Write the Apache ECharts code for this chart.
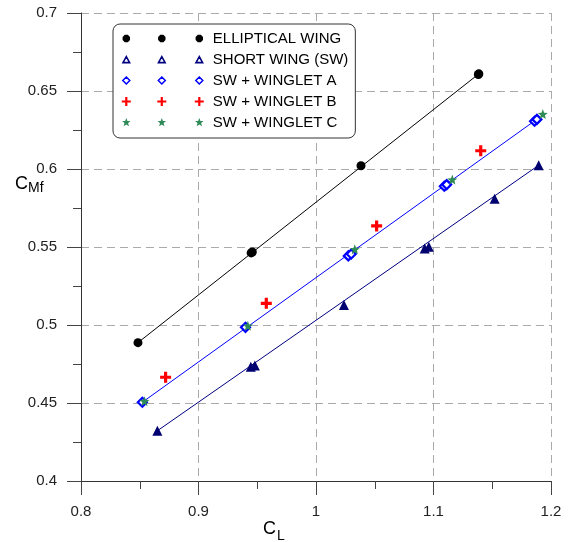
<!DOCTYPE html>
<html><head><meta charset="utf-8">
<script src="https://cdn.jsdelivr.net/npm/echarts@6/dist/echarts.min.js"></script>
<style>html,body{margin:0;padding:0;background:#fff}#c{width:571px;height:542px}</style>
</head><body><div id="c"></div>
<script>
// ---- data ----
const xTicks = [0.8, 0.9, 1.0, 1.1, 1.2];
const yTicks = [0.4, 0.45, 0.5, 0.55, 0.6, 0.65, 0.7];
const seriesNames = ['ELLIPTICAL WING', 'SHORT WING (SW)', 'SW + WINGLET A', 'SW + WINGLET B', 'SW + WINGLET C'];
const elliptical = [[0.8485,0.4887],[0.9448,0.5462],[0.9458,0.5468],[1.0383,0.6021],[1.1382,0.6606],[1.1386,0.6610]];
const shortWing = [[0.865,0.4322],[0.9445,0.4733],[0.9480,0.4740],[1.0238,0.5128],[1.0925,0.5490],[1.0960,0.5502],[1.1520,0.5810],[1.1895,0.6024]];
const wingletA = [[0.8522,0.4505],[0.9400,0.4985],[1.0275,0.5443],[1.0300,0.5455],[1.1092,0.5889],[1.1112,0.5900],[1.1860,0.6306],[1.1880,0.6318]];
const wingletB = [[0.8720,0.4665],[0.9577,0.5139],[1.0516,0.5635],[1.1402,0.6117]];
const wingletC = [[0.8540,0.4512],[0.9420,0.4995],[1.0330,0.5485],[1.1160,0.5932],[1.1930,0.6352]];
// straight fit lines (end points)
const ellipticalLine = [[0.8485,0.4887],[1.1384,0.6609]];
const shortWingLine = [[0.8650,0.4322],[1.1895,0.6024]];
const wingletLine = [[0.8522,0.4505],[1.1900,0.6330]];

// ---- marker shapes ----
function poly(pts){return 'M'+pts.map(p=>p[0].toFixed(2)+' '+p[1].toFixed(2)).join('L')+'Z';}
function octagon(cx,cy,r){const a=[];for(let k=0;k<8;k++){const t=(22.5+45*k)*Math.PI/180;a.push([cx+r*Math.cos(t),cy+r*Math.sin(t)]);}return poly(a);}
function tri(cx,cy,r){return poly([[cx,cy-r],[cx+r,cy+r*0.8],[cx-r,cy+r*0.8]]);}
function diamond(cx,cy,r){return poly([[cx,cy-r],[cx+r,cy],[cx,cy+r],[cx-r,cy]]);}
function plus(cx,cy,r,w){return poly([[cx-r,cy-w],[cx+r,cy-w],[cx+r,cy+w],[cx-r,cy+w]])+poly([[cx-w,cy-r],[cx+w,cy-r],[cx+w,cy+r],[cx-w,cy+r]]);}
function star(cx,cy,R,r){const a=[];for(let k=0;k<10;k++){const t=(-90+36*k)*Math.PI/180;const rr=k%2?r:R;a.push([cx+rr*Math.cos(t),cy+rr*Math.sin(t)]);}return poly(a);}
const centers=[4.5,40,77.5];
function legendIcon(fn){return 'path://M0 0L0 0ZM82 9L82 9Z'+centers.map(c=>fn(c)).join('');}

const FONT='Liberation Sans, Arial, sans-serif';
const chart = echarts.init(document.getElementById('c'), null, {renderer:'canvas'});
chart.setOption({
  animation:false,
  backgroundColor:'#fff',
  grid:{left:81,right:20,top:13,bottom:61,containLabel:false},
  xAxis:{type:'value',min:xTicks[0],max:xTicks[xTicks.length-1],interval:0.1,
    axisLine:{show:true,onZero:false,lineStyle:{color:'#333',width:1}},
    axisTick:{show:true,length:14,lineStyle:{color:'#444'}},
    minorTick:{show:true,splitNumber:2,length:8,lineStyle:{color:'#444'}},
    axisLabel:{margin:23,fontSize:15,fontFamily:FONT,color:'#222',showMinLabel:true,showMaxLabel:true},
    splitLine:{show:true,lineStyle:{color:'#aaa',type:[8,5],width:1}}},
  yAxis:{type:'value',min:yTicks[0],max:yTicks[yTicks.length-1],interval:0.05,
    axisLine:{show:true,onZero:false,lineStyle:{color:'#333',width:1}},
    axisTick:{show:true,length:14,lineStyle:{color:'#444'}},
    minorTick:{show:true,splitNumber:2,length:8,lineStyle:{color:'#444'}},
    axisLabel:{margin:24,fontSize:15,fontFamily:FONT,color:'#222'},
    splitLine:{show:true,lineStyle:{color:'#aaa',type:[8,5],width:1}}},
  legend:{orient:'vertical',left:113,top:24,
    backgroundColor:'#fff',borderColor:'#333',borderWidth:1,borderRadius:7,
    padding:[7,7,8,8],itemWidth:82,itemHeight:9,itemGap:6,
    textStyle:{fontSize:15,fontFamily:FONT,color:'#000',padding:[0,0,0,4]},
    data:[
      {name:seriesNames[0],icon:legendIcon(c=>octagon(c,4.5,4)),itemStyle:{color:'#000',borderWidth:0}},
      {name:seriesNames[1],icon:legendIcon(c=>tri(c,5,3.3)),itemStyle:{color:'#fff',borderColor:'#000080',borderWidth:1.6}},
      {name:seriesNames[2],icon:legendIcon(c=>diamond(c,4.5,3.5)),itemStyle:{color:'#fff',borderColor:'#0000ff',borderWidth:1.5}},
      {name:seriesNames[3],icon:legendIcon(c=>plus(c,4.5,4.5,1.1)),itemStyle:{color:'#ff0000',borderWidth:0}},
      {name:seriesNames[4],icon:legendIcon(c=>star(c,4.5,4.5,1.9)),itemStyle:{color:'#2e8b57',borderWidth:0}}
    ]},
  graphic:[
    {type:'text',x:15,y:175,style:{text:'C',fontSize:18,fontFamily:FONT,fill:'#000'}},
    {type:'text',x:28,y:181,style:{text:'Mf',fontSize:14,fontFamily:FONT,fill:'#000'}},
    {type:'text',x:263,y:520,style:{text:'C',fontSize:18,fontFamily:FONT,fill:'#000'}},
    {type:'text',x:277,y:529,style:{text:'L',fontSize:14,fontFamily:FONT,fill:'#000'}}
  ],
  series:[
    {type:'line',data:ellipticalLine,showSymbol:false,silent:true,lineStyle:{color:'#000',width:1},z:1},
    {type:'line',data:shortWingLine,showSymbol:false,silent:true,lineStyle:{color:'#000080',width:1},z:1},
    {type:'line',data:wingletLine,showSymbol:false,silent:true,lineStyle:{color:'#0000ff',width:1},z:1},
    {name:seriesNames[0],type:'scatter',data:elliptical,symbol:'circle',symbolSize:9,itemStyle:{color:'#000',opacity:1},z:3},
    {name:seriesNames[1],type:'scatter',data:shortWing,symbol:'triangle',symbolSize:10,itemStyle:{color:'#000070',opacity:1},z:3},
    {name:seriesNames[2],type:'scatter',data:wingletA,symbol:'diamond',symbolSize:9,itemStyle:{color:'#fff',borderColor:'#0000ff',borderWidth:2.2,opacity:1},z:3},
    {name:seriesNames[3],type:'scatter',data:wingletB,symbol:'path://'+plus(5.5,5.5,5.5,1.6),symbolSize:11,itemStyle:{color:'#ff0000',opacity:1},z:3},
    {name:seriesNames[4],type:'scatter',data:wingletC,symbol:'path://'+star(5,5,5,2.1),symbolSize:10,itemStyle:{color:'#2e8b57',opacity:1},z:4}
  ]
});
</script></body></html>
